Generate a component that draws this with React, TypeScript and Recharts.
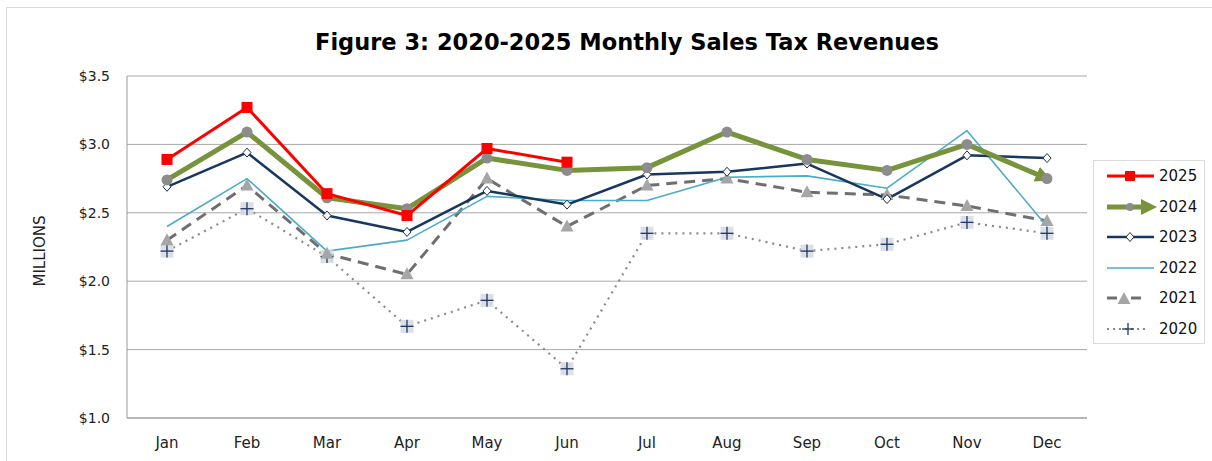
import React from "react";
import { LineChart, Line, XAxis, YAxis, CartesianGrid, Legend } from "recharts";

// monthly sales tax revenues, $ millions
const months = ["Jan", "Feb", "Mar", "Apr", "May", "Jun", "Jul", "Aug", "Sep", "Oct", "Nov", "Dec"];
const rev2025 = [2.89, 3.27, 2.64, 2.48, 2.97, 2.87, null, null, null, null, null, null];
const rev2024 = [2.74, 3.09, 2.61, 2.53, 2.9, 2.81, 2.83, 3.09, 2.89, 2.81, 3.0, 2.75];
const rev2023 = [2.69, 2.94, 2.48, 2.36, 2.66, 2.56, 2.78, 2.8, 2.86, 2.6, 2.92, 2.9];
const rev2022 = [2.4, 2.75, 2.22, 2.3, 2.62, 2.59, 2.59, 2.76, 2.77, 2.68, 3.1, 2.4];
const rev2021 = [2.3, 2.7, 2.2, 2.05, 2.75, 2.4, 2.7, 2.75, 2.65, 2.63, 2.55, 2.44];
const rev2020 = [2.22, 2.53, 2.18, 1.67, 1.86, 1.36, 2.35, 2.35, 2.22, 2.27, 2.43, 2.35];
const yTicks = [1.0, 1.5, 2.0, 2.5, 3.0, 3.5];

const data = months.map((m, i) => ({
  month: m,
  y2025: rev2025[i],
  y2024: rev2024[i],
  y2023: rev2023[i],
  y2022: rev2022[i],
  y2021: rev2021[i],
  y2020: rev2020[i],
}));

const FONT = "'DejaVu Sans', Verdana, sans-serif";

// marker shapes
const square = (cx: number, cy: number, k: any) => (
  <rect key={k} x={cx - 5.5} y={cy - 5.5} width={11} height={11} fill="#ff0000" />
);
const circle = (cx: number, cy: number, k: any) => (
  <circle key={k} cx={cx} cy={cy} r={5.5} fill="#8c8c8c" />
);
const diamond = (cx: number, cy: number, k: any) => (
  <polygon key={k} points={`${cx},${cy - 4.5} ${cx + 4},${cy} ${cx},${cy + 4.5} ${cx - 4},${cy}`} fill="#fff" stroke="#1f2f4f" strokeWidth={1} />
);
const triangle = (cx: number, cy: number, k: any) => (
  <polygon key={k} points={`${cx},${cy - 7} ${cx + 6.5},${cy + 5} ${cx - 6.5},${cy + 5}`} fill="#a6a6a6" />
);
const plus = (cx: number, cy: number, k: any) => (
  <g key={k}>
    <rect x={cx - 6.5} y={cy - 6.5} width={13} height={13} fill="#d5d9e3" opacity={0.85} />
    <line x1={cx - 6.5} y1={cy} x2={cx + 6.5} y2={cy} stroke="#1f3864" strokeWidth={1.3} />
    <line x1={cx} y1={cy - 6.5} x2={cx} y2={cy + 6.5} stroke="#1f3864" strokeWidth={1.3} />
  </g>
);

const dotFrom = (shape: (cx: number, cy: number, k: any) => React.ReactElement) => (p: any) => {
  if (p.cx == null || p.cy == null || p.value == null) return <g key={p.index} />;
  return shape(p.cx, p.cy, p.index);
};

const series = [
  { key: "y2025", name: "2025", color: "#ff0000", width: 3, dash: undefined, shape: square },
  { key: "y2024", name: "2024", color: "#77933c", width: 5, dash: undefined, shape: circle },
  { key: "y2023", name: "2023", color: "#17375e", width: 2.5, dash: undefined, shape: diamond },
  { key: "y2022", name: "2022", color: "#4bacc6", width: 1.6, dash: undefined, shape: null },
  { key: "y2021", name: "2021", color: "#6f6f6f", width: 3, dash: "11 7", shape: triangle },
  { key: "y2020", name: "2020", color: "#8a8a8a", width: 2.2, dash: "2 5", shape: plus },
];

const renderLegend = () => (
  <div
    style={{
      border: "1px solid #dcdcdc",
      width: 112,
      height: 184,
      boxSizing: "border-box",
      fontFamily: FONT,
      fontSize: 15,
      color: "#111",
    }}
  >
    {series.map((s) => (
      <div key={s.key} style={{ height: 30.5, display: "flex", alignItems: "center" }}>
        <svg width={62} height={20} style={{ marginLeft: 9 }}>
          {s.key === "y2021" ? (
            <g>
              <line x1={4} y1={10} x2={14} y2={10} stroke={s.color} strokeWidth={3} />
              <line x1={28} y1={10} x2={38} y2={10} stroke={s.color} strokeWidth={3} />
            </g>
          ) : s.key === "y2020" ? (
            <line x1={4} y1={10} x2={46} y2={10} stroke={s.color} strokeWidth={2.2} strokeDasharray="2 4" />
          ) : (
            <line x1={4} y1={10} x2={s.key === "y2024" ? 40 : 51} y2={10} stroke={s.color} strokeWidth={s.width} />
          )}
          {s.key === "y2024" && <polygon points="38,2 54,10 38,18" fill={s.color} />}
          {s.key === "y2021" && triangle(21, 11, "t")}
          {s.key === "y2023" && diamond(27, 10, "d")}
          {s.key === "y2024" && <circle cx={27} cy={10} r={4} fill="#8c8c8c" />}
          {s.key === "y2025" && <rect x={22} y={5} width={10} height={10} fill="#ff0000" />}
          {s.key === "y2020" && (
            <g>
              <line x1={19} y1={10} x2={31} y2={10} stroke="#1f3864" strokeWidth={1.3} />
              <line x1={25} y1={4} x2={25} y2={16} stroke="#1f3864" strokeWidth={1.3} />
            </g>
          )}
        </svg>
        <span style={{ marginLeft: -6 }}>{s.name}</span>
      </div>
    ))}
  </div>
);

export default function App() {
  return (
    <div style={{ position: "absolute", left: 0, top: 0, width: 1212, height: 461, background: "#fff", overflow: "hidden" }}>
      <svg width={0} height={0} style={{ position: "absolute" }}>
        <defs>
          <marker id="arrow2024" viewBox="0 0 10 10" refX={7} refY={5} markerWidth={3.2} markerHeight={3.2} orient="auto">
            <path d="M0,0 L10,5 L0,10 z" fill="#77933c" />
          </marker>
        </defs>
      </svg>
      {/* frame */}
      <div style={{ position: "absolute", left: 6, top: 7, width: 1220, height: 470, borderLeft: "1px solid #dadada", borderTop: "1px solid #dadada" }} />
      <div
        style={{
          position: "absolute",
          left: 0,
          width: 1254,
          top: 29,
          textAlign: "center",
          fontFamily: FONT,
          fontWeight: "bold",
          fontSize: 22.5,
          color: "#000",
        }}
      >
        Figure 3: 2020-2025 Monthly Sales Tax Revenues
      </div>
      <div
        style={{
          position: "absolute",
          left: 40,
          top: 251,
          transform: "translate(-50%, -50%) rotate(-90deg)",
          fontFamily: FONT,
          fontSize: 15,
          color: "#222",
          whiteSpace: "nowrap",
        }}
      >
        MILLIONS
      </div>
      <div style={{ position: "absolute", left: 0, top: 0 }}>
        <LineChart width={1212} height={461} data={data} margin={{ top: 76, right: 125, bottom: 13, left: 37 }}>
          <CartesianGrid vertical={false} stroke="#a8a8a8" />
          <XAxis
            dataKey="month"
            height={30}
            padding={{ left: 40, right: 40 }}
            axisLine={{ stroke: "#9a9a9a" }}
            tickLine={false}
            tickSize={0}
            tickMargin={19}
            tick={{ fill: "#222", fontSize: 15, fontFamily: FONT }}
          />
          <YAxis
            width={90}
            domain={[1, 3.5]}
            ticks={yTicks}
            axisLine={{ stroke: "#9a9a9a" }}
            tickLine={false}
            tickSize={0}
            tickMargin={17}
            tickFormatter={(v: number) => `$${v.toFixed(1)}`}
            tick={{ fill: "#222", fontSize: 14, fontFamily: FONT }}
          />
          <Legend
            layout="horizontal"
            verticalAlign="middle"
            align="center"
            content={renderLegend}
            wrapperStyle={{ left: 1093, top: 160, width: 112, height: 184 }}
          />
          {[...series].reverse().map((s) => (
            <Line
              key={s.key}
              dataKey={s.key}
              name={s.name}
              stroke={s.color}
              strokeWidth={s.width}
              strokeDasharray={s.dash}
              strokeLinejoin="round"
              type="linear"
              dot={s.shape ? dotFrom(s.shape) : false}
              activeDot={false}
              markerEnd={s.key === "y2024" ? "url(#arrow2024)" : undefined}
              isAnimationActive={false}
            />
          ))}
        </LineChart>
      </div>
    </div>
  );
}
